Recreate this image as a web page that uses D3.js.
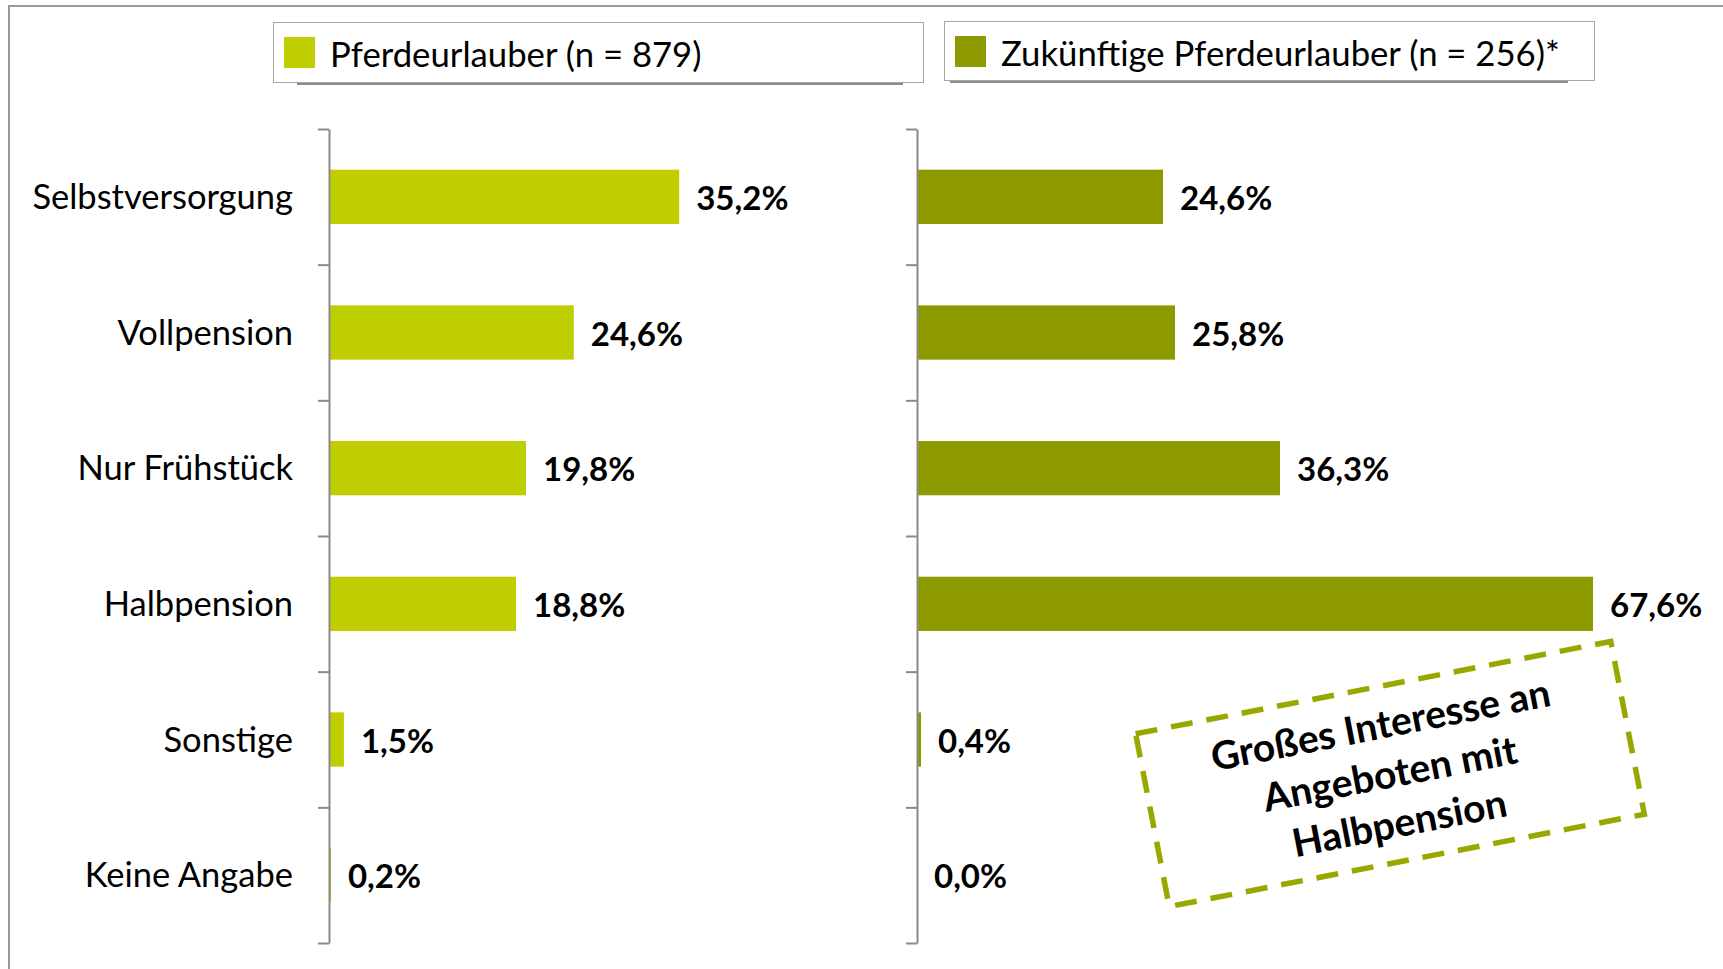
<!DOCTYPE html>
<html>
<head>
<meta charset="utf-8">
<script src="https://cdn.jsdelivr.net/npm/d3@7"></script>
<style>
  body { margin: 0; background: #fff; }
  svg { display: block; }
  text { font-family: Lato, "Open Sans", sans-serif; fill: #000; }
</style>
</head>
<body>
<div id="chart"></div>
<script>
// data
var categories = ["Selbstversorgung", "Vollpension", "Nur Frühstück", "Halbpension", "Sonstige", "Keine Angabe"];
var pferdeurlauber = [35.2, 24.6, 19.8, 18.8, 1.5, 0.2];
var zukuenftige = [24.6, 25.8, 36.3, 67.6, 0.4, 0.0];
var seriesNames = ["Pferdeurlauber (n = 879)", "Zukünftige Pferdeurlauber (n = 256)*"];
var noteLines = ["Großes Interesse an", "Angeboten mit", "Halbpension"];

var width = 1723, height = 969;
var lightGreen = "#bfce00", darkGreen = "#8c9a00", axisGray = "#8a8a8a";

var svg = d3.select("#chart").append("svg")
    .attr("width", width)
    .attr("height", height);

// outer frame (top and left edges only are visible)
svg.append("path")
    .attr("d", "M9," + height + "V6H" + width)
    .attr("fill", "none")
    .attr("stroke", "#9a9a9a")
    .attr("stroke-width", 2);

var y = d3.scaleBand()
    .domain(categories)
    .range([129, 943])
    .paddingInner(0.6)
    .paddingOuter(0.3);

var tickScale = d3.scaleLinear().domain([0, categories.length]).range([129, 943]);

var xLeft = d3.scaleLinear().domain([0, 40]).range([329, 727]);
var xRight = d3.scaleLinear().domain([0, 70]).range([917, 1617]);

var fmt = function (v) { return d3.format(".1f")(v).replace(".", ",") + "%"; };

function panel(values, x, color) {
    var g = svg.append("g");
    g.selectAll("rect")
        .data(values)
        .enter()
        .append("rect")
        .attr("x", x(0))
        .attr("y", (d, i) => y(categories[i]))
        .attr("width", (d) => x(d) - x(0))
        .attr("height", y.bandwidth())
        .attr("fill", color);

    var axis = d3.axisLeft(tickScale)
        .tickValues(d3.range(categories.length + 1))
        .tickFormat("")
        .tickSizeInner(11)
        .tickSizeOuter(0);
    var ax = g.append("g")
        .attr("transform", "translate(" + x(0) + ",0)")
        .call(axis);
    ax.selectAll("path, line").attr("stroke", axisGray).attr("stroke-width", 2);

    g.selectAll("text.value")
        .data(values)
        .enter()
        .append("text")
        .attr("class", "value")
        .attr("x", (d) => x(d) + 17)
        .attr("y", (d, i) => y(categories[i]) + y.bandwidth() / 2)
        .attr("dy", "0.4em")
        .style("font-size", "33px")
        .style("font-weight", "bold")
        .text(fmt);
}

panel(pferdeurlauber, xLeft, lightGreen);
panel(zukuenftige, xRight, darkGreen);

// category labels
svg.selectAll("text.cat")
    .data(categories)
    .enter()
    .append("text")
    .attr("class", "cat")
    .attr("x", 293)
    .attr("y", (d) => y(d) + y.bandwidth() / 2)
    .attr("dy", "0.35em")
    .attr("text-anchor", "end")
    .style("font-size", "34.5px")
    .text((d) => d);

// legends
var legends = [
    { name: seriesNames[0], color: lightGreen, x: 273, y: 22, w: 650, h: 60, sx: 297, sw: 606 },
    { name: seriesNames[1], color: darkGreen, x: 944, y: 21, w: 650, h: 59, sx: 950, sw: 618 }
];
legends.forEach(function (l) {
    var g = svg.append("g");
    g.append("rect")
        .attr("x", l.sx).attr("y", l.y + l.h)
        .attr("width", l.sw).attr("height", 3)
        .attr("fill", "#8c8c8c");
    g.append("rect")
        .attr("x", l.x + 0.5).attr("y", l.y + 0.5)
        .attr("width", l.w).attr("height", l.h)
        .attr("fill", "#fff")
        .attr("stroke", "#a6a6a6")
        .attr("stroke-width", 1);
    g.append("rect")
        .attr("x", l.x + 11).attr("y", l.y + 15)
        .attr("width", 31).attr("height", 31)
        .attr("fill", l.color);
    g.append("text")
        .attr("x", l.x + 57)
        .attr("y", l.y + l.h / 2 + 3)
        .attr("dy", "0.35em")
        .style("font-size", "34.7px")
        .text(l.name);
});

// rotated dashed note
var note = svg.append("g")
    .attr("transform", "translate(1390,774) rotate(-11)");
note.append("rect")
    .attr("x", -242).attr("y", -88)
    .attr("width", 484).attr("height", 176)
    .attr("fill", "none")
    .attr("stroke", "#99a800")
    .attr("stroke-width", 5.5)
    .attr("stroke-dasharray", "22,14");
note.selectAll("text")
    .data(noteLines)
    .enter()
    .append("text")
    .attr("x", 0)
    .attr("y", (d, i) => (i - 1) * 50)
    .attr("dy", "0.35em")
    .attr("text-anchor", "middle")
    .style("font-size", "39px")
    .style("font-weight", "bold")
    .text((d) => d);
</script>
</body>
</html>
